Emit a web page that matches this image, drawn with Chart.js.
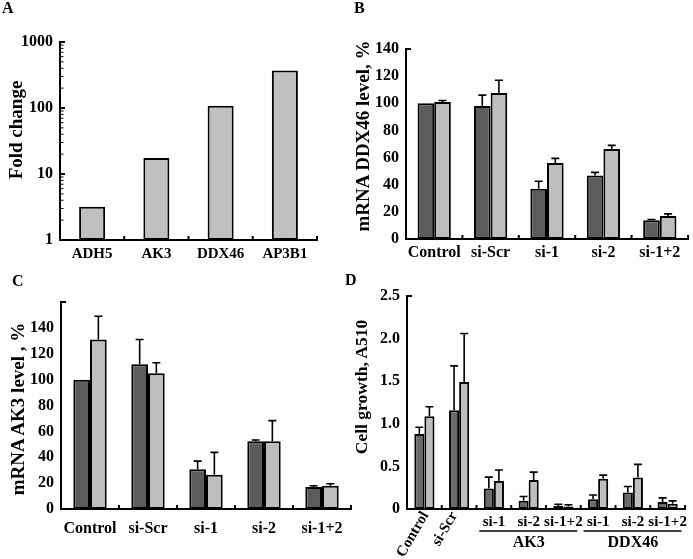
<!DOCTYPE html>
<html><head><meta charset="utf-8">
<script src="https://cdn.jsdelivr.net/npm/chart.js@4.4.1/dist/chart.umd.min.js"></script>
<style>
html,body{margin:0;padding:0;background:#fff;width:693px;height:559px;overflow:hidden;position:relative}
canvas{position:absolute}
.t{position:absolute;font-family:'Liberation Serif','Times New Roman',serif;font-weight:bold;color:#000;white-space:nowrap;line-height:1}
.yt{transform:translate(-50%,-50%) rotate(-90deg);font-size:19px}
.pl{font-size:16px}
</style></head><body>
<canvas id="cA" width="346" height="275" style="left:0;top:0"></canvas>
<canvas id="cB" width="347" height="275" style="left:346px;top:0"></canvas>
<canvas id="cC" width="352" height="284" style="left:0;top:275px"></canvas>
<canvas id="cD" width="347" height="284" style="left:346px;top:275px"></canvas>
<div class="t pl" style="left:2px;top:0px">A</div>
<div class="t pl" style="left:354px;top:0px">B</div>
<div class="t pl" style="left:12px;top:273px">C</div>
<div class="t pl" style="left:345px;top:272px">D</div>
<div class="t yt" style="left:15px;top:130px">Fold change</div>
<div class="t yt" style="left:362px;top:136px">mRNA DDX46 level, %</div>
<div class="t yt" style="left:17px;top:409px">mRNA AK3 level , %</div>
<div class="t yt" style="left:362px;top:387px;font-size:17.5px">Cell growth, A510</div>
<script>
// ---------- data ----------
const catsA = ['ADH5', 'AK3', 'DDX46', 'AP3B1'];
const foldA = [3.2, 17.5, 108, 370];
const ticksA = [1, 10, 100, 1000];

const catsB = ['Control', 'si-Scr', 'si-1', 'si-2', 'si-1+2'];
const ddxDark = [100, 98, 37, 46.7, 13.9];
const ddxDarkErr = [0, 8, 5.6, 2.4, 0.5];
const ddxLight = [101, 107.6, 56, 66.3, 17];
const ddxLightErr = [1, 9.4, 3.4, 2.7, 1.5];

const catsC = ['Control', 'si-Scr', 'si-1', 'si-2', 'si-1+2'];
const ak3Dark = [100, 111.8, 30.8, 52.3, 17];
const ak3DarkErr = [0, 19.2, 6.2, 1, 1];
const ak3Light = [131, 105, 26.4, 52.3, 18];
const ak3LightErr = [18, 8, 17.4, 16, 1.5];

const catsD = ['Control', 'si-Scr', 'si-1', 'si-2', 'si-1+2', 'si-1', 'si-2', 'si-1+2'];
const groupsD = ['AK3', 'DDX46'];
const groupStartD = [2, 5];
const groupEndD = [4, 7];
const growDark = [0.88, 1.16, 0.24, 0.098, 0.035, 0.114, 0.193, 0.083];
const growDarkErr = [0.08, 0.52, 0.134, 0.048, 0.02, 0.051, 0.071, 0.047];
const growLight = [1.09, 1.49, 0.33, 0.339, 0.03, 0.355, 0.37, 0.063];
const growLightErr = [0.11, 0.57, 0.127, 0.094, 0.02, 0.043, 0.154, 0.032];

// ---------- helpers ----------
const serif = "'Liberation Serif', 'Times New Roman', serif";
const DARK = '#5c5c5c', LIGHT = '#bebebe', DARKD = '#6a6a6a';
function fixY(w) { return s => { s.width = w; s.paddingTop = 0; s.paddingBottom = 0; }; }
function fixX(h) { return s => { s.height = h; s.paddingLeft = 0; s.paddingRight = 0; }; }

const errPlugin = {
  id: 'errBars',
  afterDatasetsDraw(chart) {
    const ctx = chart.ctx, y = chart.scales.y;
    chart.data.datasets.forEach((ds, di) => {
      if (!ds.err) return;
      chart.getDatasetMeta(di).data.forEach((bar, i) => {
        const e = ds.err[i];
        if (!e) return;
        const base = y.getPixelForValue(ds.data[i]);
        const top = y.getPixelForValue(ds.data[i] + e);
        ctx.save();
        ctx.strokeStyle = '#000'; ctx.lineWidth = 1.6;
        ctx.beginPath();
        ctx.moveTo(bar.x, base); ctx.lineTo(bar.x, top);
        ctx.moveTo(bar.x - 4, top); ctx.lineTo(bar.x + 4, top);
        ctx.stroke(); ctx.restore();
      });
    });
  }
};

const tickPlugin = {
  id: 'axTicks',
  afterDraw(chart, args, o) {
    const ctx = chart.ctx, a = chart.chartArea, x = chart.scales.x, y = chart.scales.y;
    const n = chart.data.labels.length;
    const step = x.getPixelForValue(1) - x.getPixelForValue(0);
    ctx.save(); ctx.strokeStyle = '#000'; ctx.lineWidth = 2;
    ctx.beginPath();
    for (let i = 0; i < n; i++) {
      const px = x.getPixelForValue(i) + step / 2;
      ctx.moveTo(px, a.bottom); ctx.lineTo(px, a.bottom - (o.xLen || 4));
    }
    (o.yMajor || []).forEach(v => {
      const py = y.getPixelForValue(v);
      ctx.moveTo(a.left, py); ctx.lineTo(a.left + 5, py);
    });
    ctx.stroke();
    if (o.yMinor) {
      ctx.lineWidth = 1; ctx.beginPath();
      o.yMinor.forEach(v => {
        const py = y.getPixelForValue(v);
        ctx.moveTo(a.left, py); ctx.lineTo(a.left + 3.5, py);
      });
      ctx.stroke();
    }
    ctx.restore();
  }
};

function barDs(data, color, err) {
  return { data, backgroundColor: color, borderColor: '#000', borderWidth: 2, borderSkipped: false, err,
    barPercentage: 1 };
}
function common(padding) {
  return {
    responsive: false, animation: false, events: [],
    layout: { padding },
    plugins: { legend: { display: false }, tooltip: { enabled: false } },
  };
}
function xAxis(h, pad, size, show) {
  return {
    type: 'category', offset: true,
    grid: { display: false, drawTicks: false },
    border: { display: true, color: '#000', width: 2 },
    ticks: { display: show !== false, color: '#000', padding: pad, maxRotation: 0, autoSkip: false,
      font: { family: serif, weight: 'bold', size: size } },
    afterFit: fixX(h)
  };
}
function yAxis(w, extra) {
  return Object.assign({
    grid: { display: false, drawTicks: false },
    border: { display: true, color: '#000', width: 2 },
    ticks: { color: '#000', padding: 7, font: { family: serif, weight: 'bold', size: 16 } },
    afterFit: fixY(w)
  }, extra);
}

// ---------- A ----------
const minorA = [];
[1, 10, 100].forEach(d => { for (let k = 2; k <= 9; k++) minorA.push(d * k); });
new Chart(document.getElementById('cA'), {
  type: 'bar',
  data: { labels: catsA, datasets: [Object.assign(barDs(foldA, '#c0c0c0'), { categoryPercentage: 0.405 })] },
  options: Object.assign(common({ left: 0, top: 42, right: 29, bottom: 0 }), {
    scales: {
      x: xAxis(35, 5, 15),
      y: yAxis(60, {
        type: 'logarithmic', min: 1, max: 1000,
        afterBuildTicks: s => { s.ticks = ticksA.map(v => ({ value: v, major: true })); },
        ticks: { color: '#000', padding: 7, font: { family: serif, weight: 'bold', size: 16 },
          callback: v => String(v) }
      })
    },
    plugins: { legend: { display: false }, tooltip: { enabled: false },
      axTicks: { yMajor: ticksA, yMinor: minorA } }
  }),
  plugins: [tickPlugin]
});

// ---------- B ----------
new Chart(document.getElementById('cB'), {
  type: 'bar',
  data: { labels: catsB, datasets: [
    Object.assign(barDs(ddxDark, DARK, ddxDarkErr), { categoryPercentage: 0.59 }),
    Object.assign(barDs(ddxLight, LIGHT, ddxLightErr), { categoryPercentage: 0.59 })
  ] },
  options: Object.assign(common({ left: 0, top: 49, right: 5, bottom: 0 }), {
    scales: {
      x: xAxis(36, 4, 16),
      y: yAxis(60, { min: 0, max: 140, ticks: { color: '#000', padding: 7, stepSize: 20,
        font: { family: serif, weight: 'bold', size: 16 } } })
    },
    plugins: { legend: { display: false }, tooltip: { enabled: false }, axTicks: { yMajor: [140] } }
  }),
  plugins: [errPlugin, tickPlugin]
});

// ---------- C ----------
new Chart(document.getElementById('cC'), {
  type: 'bar',
  data: { labels: catsC, datasets: [
    Object.assign(barDs(ak3Dark, DARK, ak3DarkErr), { categoryPercentage: 0.576 }),
    Object.assign(barDs(ak3Light, LIGHT, ak3LightErr), { categoryPercentage: 0.576 })
  ] },
  options: Object.assign(common({ left: 0, top: 27, right: 1, bottom: 0 }), {
    scales: {
      x: xAxis(50, 10, 16),
      y: yAxis(61, { min: 0, max: 160, ticks: { color: '#000', padding: 7, stepSize: 20,
        font: { family: serif, weight: 'bold', size: 16 },
        callback: v => (v > 140 ? '' : String(v)) } })
    },
    plugins: { legend: { display: false }, tooltip: { enabled: false }, axTicks: { yMajor: [160] } }
  }),
  plugins: [errPlugin, tickPlugin]
});

// ---------- D ----------
const dLabels = {
  id: 'dLabels',
  afterDraw(chart) {
    const ctx = chart.ctx, a = chart.chartArea, x = chart.scales.x;
    const step = x.getPixelForValue(1) - x.getPixelForValue(0);
    ctx.save(); ctx.fillStyle = '#000'; ctx.strokeStyle = '#000';
    ctx.font = 'bold 15px ' + serif;
    catsD.forEach((lab, i) => {
      const cx = x.getPixelForValue(i);
      if (i < 2) {
        ctx.save();
        ctx.translate(cx + (i === 0 ? 1 : -5), a.bottom + 4);
        ctx.rotate(-Math.PI / 3);
        ctx.textAlign = 'right'; ctx.textBaseline = 'middle';
        ctx.fillText(lab, 0, 0);
        ctx.restore();
      } else {
        ctx.textAlign = 'center'; ctx.textBaseline = 'middle';
        ctx.fillText(lab, cx, a.bottom + 13);
      }
    });
    ctx.font = 'bold 16px ' + serif;
    ctx.lineWidth = 1.5;
    groupsD.forEach((g, k) => {
      const x0 = x.getPixelForValue(groupStartD[k]) - 0.42 * step;
      const x1 = x.getPixelForValue(groupEndD[k]) + 0.4 * step;
      ctx.beginPath(); ctx.moveTo(x0, a.bottom + 22); ctx.lineTo(x1, a.bottom + 22); ctx.stroke();
      const c = (x.getPixelForValue(groupStartD[k]) + x.getPixelForValue(groupEndD[k])) / 2;
      ctx.textAlign = 'center'; ctx.textBaseline = 'middle';
      ctx.fillText(g, c, a.bottom + 34);
    });
    ctx.restore();
  }
};
new Chart(document.getElementById('cD'), {
  type: 'bar',
  data: { labels: catsD, datasets: [
    Object.assign(barDs(growDark, DARKD, growDarkErr), { categoryPercentage: 0.58 }),
    Object.assign(barDs(growLight, LIGHT, growLightErr), { categoryPercentage: 0.58 })
  ] },
  options: Object.assign(common({ left: 0, top: 21, right: 8, bottom: 0 }), {
    scales: {
      x: xAxis(50, 10, 15, false),
      y: yAxis(61, { min: 0, max: 2.5, ticks: { color: '#000', padding: 7, stepSize: 0.5,
        font: { family: serif, weight: 'bold', size: 16 } } })
    },
    plugins: { legend: { display: false }, tooltip: { enabled: false }, axTicks: { yMajor: [2.5] } }
  }),
  plugins: [errPlugin, tickPlugin, dLabels]
});
</script>
</body></html>
